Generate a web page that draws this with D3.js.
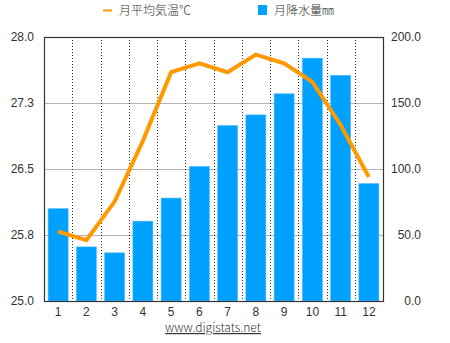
<!DOCTYPE html>
<html>
<head>
<meta charset="utf-8">
<script src="https://cdn.jsdelivr.net/npm/d3@7"></script>
<style>
  body { margin: 0; background: #fff; }
  svg { display: block; font-family: "Noto Sans CJK JP", "Noto Sans", sans-serif; font-weight: 300; }
</style>
</head>
<body>
<svg id="chart"></svg>
<script>
// 月ごとのデータ
const months = ["1", "2", "3", "4", "5", "6", "7", "8", "9", "10", "11", "12"];
const temperature = [25.79, 25.69, 26.13, 26.82, 27.6, 27.7, 27.6, 27.8, 27.7, 27.49, 27.0, 26.41];
const rainfall = [70, 41, 36.5, 60.5, 78, 102, 133, 141, 157, 184, 171, 89];
const leftTicks = [25.0, 25.75, 26.5, 27.25, 28.0];
const rightTicks = [0, 50, 100, 150, 200];

const width = 450, height = 343;
const margin = { top: 37, right: 67, bottom: 42, left: 44 };
const innerW = width - margin.left - margin.right;
const innerH = height - margin.top - margin.bottom;

const svg = d3.select("#chart").attr("width", width).attr("height", height);
const g = svg.append("g").attr("transform", `translate(${margin.left},${margin.top})`);

const x = d3.scaleBand().domain(months).range([0, innerW]).paddingInner(0.29).paddingOuter(0.145);
const xb = d3.scaleBand().domain(months).range([0, innerW]);
const yT = d3.scaleLinear().domain([25, 28]).range([innerH, 0]);
const yR = d3.scaleLinear().domain([0, 200]).range([innerH, 0]);

// 横のグリッド線
g.append("g")
  .selectAll("line")
  .data(rightTicks.slice(1, -1))
  .join("line")
  .attr("x1", 0).attr("x2", innerW)
  .attr("y1", d => Math.round(yR(d)) + 0.5).attr("y2", d => Math.round(yR(d)) + 0.5)
  .attr("stroke", "#b4b4b4").attr("stroke-width", 1);

// 縦の点線
g.append("g")
  .selectAll("line")
  .data(months.slice(1))
  .join("line")
  .attr("x1", d => Math.round(xb(d)) + 0.5).attr("x2", d => Math.round(xb(d)) + 0.5)
  .attr("y1", 0).attr("y2", innerH)
  .attr("stroke", "#333").attr("stroke-width", 1)
  .attr("stroke-dasharray", "1,2");

// 降水量の棒
g.append("g")
  .selectAll("rect")
  .data(rainfall)
  .join("rect")
  .attr("x", (d, i) => x(months[i]))
  .attr("y", d => yR(d))
  .attr("width", x.bandwidth())
  .attr("height", d => innerH - yR(d))
  .attr("fill", "#00a0ff")
  .attr("stroke", "#5cc0ff")
  .attr("stroke-width", 0.6);

// 気温の折れ線
const line = d3.line()
  .x((d, i) => xb(months[i]) + xb.bandwidth() / 2)
  .y(d => yT(d));
g.append("path")
  .datum(temperature)
  .attr("d", line)
  .attr("fill", "none")
  .attr("stroke", "#ff9900")
  .attr("stroke-width", 4)
  .attr("stroke-linejoin", "miter");

// 枠
g.append("rect")
  .attr("x", 0.5).attr("y", 0.5)
  .attr("width", innerW).attr("height", innerH)
  .attr("fill", "none").attr("stroke", "#333").attr("stroke-width", 1.2);

// 左軸
const leftAxis = g.append("g")
  .call(d3.axisLeft(yT).tickValues(leftTicks).tickFormat(d3.format(".1f")).tickSize(0).tickPadding(10));
leftAxis.select(".domain").remove();
leftAxis.selectAll("text").attr("font-size", 12).attr("fill", "#333");

// 右軸
const rightAxis = g.append("g")
  .attr("transform", `translate(${innerW},0)`)
  .call(d3.axisRight(yR).tickValues(rightTicks).tickFormat(d3.format(".1f")).tickSize(0).tickPadding(38));
rightAxis.select(".domain").remove();
rightAxis.selectAll("text").attr("font-size", 12).attr("fill", "#333").attr("text-anchor", "end");

// 下軸
const bottomAxis = g.append("g")
  .attr("transform", `translate(0,${innerH})`)
  .call(d3.axisBottom(xb).tickSize(0).tickPadding(6));
bottomAxis.select(".domain").remove();
bottomAxis.selectAll("text").attr("font-size", 12).attr("fill", "#333");

// 出典
svg.append("text")
  .attr("x", 213).attr("y", 332)
  .attr("text-anchor", "middle")
  .attr("font-size", 12).attr("fill", "#333")
  .attr("text-decoration", "underline")
  .text("www.digistats.net");

// 凡例
const legend = svg.append("g");
legend.append("line")
  .attr("x1", 103).attr("x2", 112).attr("y1", 10.5).attr("y2", 10.5)
  .attr("stroke", "#ff9900").attr("stroke-width", 2);
legend.append("text")
  .attr("x", 119).attr("y", 15)
  .attr("font-size", 12).attr("fill", "#333")
  .text("月平均気温℃");
legend.append("rect")
  .attr("x", 258).attr("y", 5).attr("width", 9).attr("height", 10)
  .attr("fill", "#00a0ff");
legend.append("text")
  .attr("x", 274).attr("y", 15)
  .attr("font-size", 12).attr("fill", "#333")
  .text("月降水量㎜");
</script>
</body>
</html>
